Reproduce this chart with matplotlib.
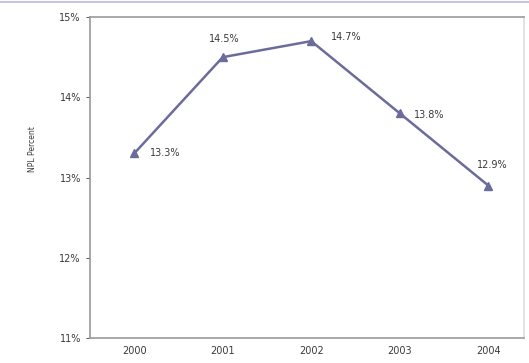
import matplotlib
matplotlib.use("Agg")
import matplotlib.pyplot as plt

# ------------------------------------------------------------
# Data
# ------------------------------------------------------------
years = ["2000", "2001", "2002", "2003", "2004"]
npl_pct = [13.3, 14.5, 14.7, 13.8, 12.9]
point_labels = ["13.3%", "14.5%", "14.7%", "13.8%", "12.9%"]
y_ticks = [11, 12, 13, 14, 15]

# label offsets in points (dx, dy) per year
label_offsets = [(11, 0), (-10, 13), (14, 3), (10, -1), (-8, 15)]

# ------------------------------------------------------------
# Plot
# ------------------------------------------------------------
fig = plt.figure(figsize=(5.29, 3.63), dpi=100)
ax = fig.add_axes([0.170, 0.069, 0.820, 0.884])

x = list(range(len(years)))
line_color = "#6b6b9c"
ax.plot(x, npl_pct, color=line_color, linewidth=1.8, marker="^",
        markersize=6, markerfacecolor=line_color, markeredgecolor=line_color)

for xi, val, lab, (dx, dy) in zip(x, npl_pct, point_labels, label_offsets):
    ax.annotate(lab, (xi, val), xytext=(dx, dy), textcoords="offset points",
                fontsize=7, color="#3a3a3a", va="center", ha="left")

ax.set_xlim(-0.5, 4.4)
ax.set_ylim(11, 15)
ax.set_xticks(x)
ax.set_xticklabels(years)
ax.set_yticks(y_ticks)
ax.set_yticklabels([f"{t}%" for t in y_ticks])
ax.tick_params(axis="both", labelsize=7, colors="#3a3a3a", length=3, width=0.6)
ax.tick_params(axis="x", length=0, pad=6)

for side in ["left", "bottom", "top", "right"]:
    ax.spines[side].set_color("#9a9a9a")
    ax.spines[side].set_linewidth(1.2)
ax.spines["right"].set_color("#dddddd")

fig.text(0.062, 0.59, "NPL Percent", rotation=90, fontsize=5.5,
         color="#3a3a3a", ha="center", va="center")

# thin band along the upper edge
fig.add_artist(plt.Line2D([0, 1], [0.995, 0.995], color="#c8c4e0", linewidth=1.5))

fig.savefig("out.png", dpi=100)
